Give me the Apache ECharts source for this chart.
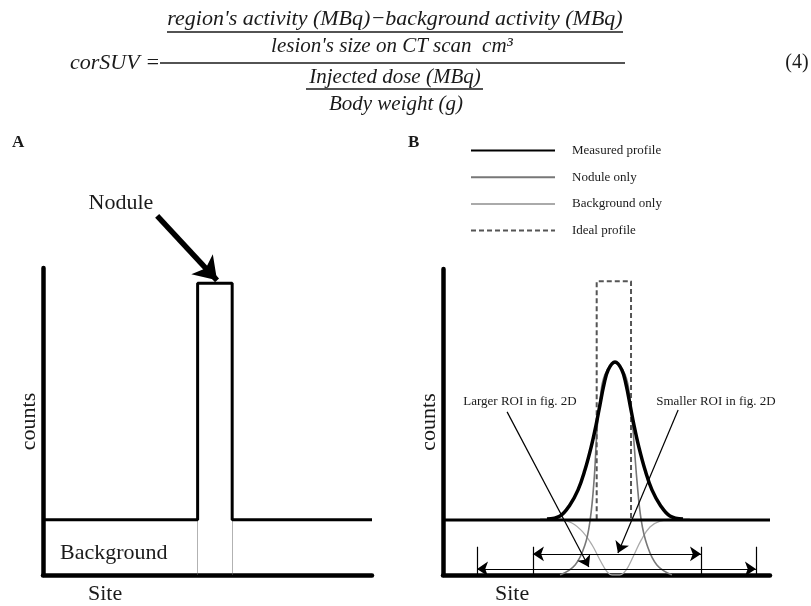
<!DOCTYPE html>
<html>
  <head>
    <meta charset="utf-8" />
    <title>corSUV profiles</title>
    <script src="https://cdn.jsdelivr.net/npm/echarts@6/dist/echarts.min.js"></script>
    <style>
      html, body { margin: 0; padding: 0; background: #fff; }
    </style>
  </head>
  <body>
    <div id="main" style="width: 811px;height:606px;"></div>
    <script type="text/javascript">
        // ---- data (site 0-100, counts 0-100) ----
        // panel A: ideal step profile
        var profileA = [[0, 18], [47, 18], [47, 95], [57.5, 95], [57.5, 18], [100, 18]];
        var nodeEdgesA = [47, 57.5];
        var nodArrowA = [[34.7, 117], [52.9, 96]];

        // panel B
        var baselineB = [[0, 18], [100, 18]];
        var measuredB = [[31.8, 18.3], [35.8, 19.3], [38.8, 22.9], [41.3, 27.8], [43.4, 34.3], [45.3, 41.8],
            [46.8, 49], [48, 55.6], [49.2, 62.1], [50.5, 67], [52.6, 69.6], [54.7, 67], [56, 62.1],
            [57.2, 55.6], [58.4, 49], [59.9, 41.8], [61.8, 34.3], [63.9, 27.8], [66.4, 22.9],
            [69.4, 19.3], [73.4, 18.3]];
        var noduleOnlyB = [[35.8, 0], [40.4, 3.3], [43.4, 9.8], [45, 18], [46.2, 31], [47.1, 47.4],
            [48, 57.2], [49.5, 65.4], [52.6, 69.3], [55.7, 65.4], [57.2, 57.2], [58.1, 47.4],
            [59.3, 31], [60.6, 18], [62.4, 9.8], [65.4, 3.3], [70, 0]];
        var backgroundOnlyB = [[29.7, 18.3], [34.9, 18.3], [39.4, 17], [42.8, 14], [45.6, 9.8], [48, 4.9],
            [50.2, 1], [51.7, 0], [54.1, 0], [56, 1.6], [58.1, 5.9], [60.6, 11.4], [63.3, 15.7],
            [66.4, 17.6], [71, 18.3], [75.5, 18.3]];
        var idealB = [[35, 18], [47, 18], [47, 96], [57.5, 96], [57.5, 18], [71, 18]];

        // ROI extents [from, to, level]
        var largerROI = [10.4, 95.7, 2];
        var smallerROI = [27.5, 78.9, 6.9];
        var roiTickTop = 9.2;
        // pointer arrows from the labels
        var largerPointer = [[19.6, 53.3], [44.6, 2.6]];
        var smallerPointer = [[71.9, 53.9], [53.5, 7.2]];

        var SERIF = '"Liberation Serif", "Times New Roman", serif';
        var INK = '#1a1a1a';

        var myChart = echarts.init(document.getElementById('main'));

        function axisPair(idx) {
            return {
                x: {
                    type: 'value', gridIndex: idx, min: 0, max: 100,
                    axisLine: { show: true, lineStyle: { color: '#000', width: 4.5 } },
                    axisTick: { show: false }, axisLabel: { show: false }, splitLine: { show: false }
                },
                y: {
                    type: 'value', gridIndex: idx, min: 0, max: 100,
                    name: 'counts', nameLocation: 'middle', nameRotate: 90, nameGap: 3,
                    nameTextStyle: { fontFamily: SERIF, fontSize: 22, color: INK },
                    axisLine: { show: true, lineStyle: { color: '#000', width: 4.5 } },
                    axisTick: { show: false }, axisLabel: { show: false }, splitLine: { show: false }
                }
            };
        }
        var axA = axisPair(0), axB = axisPair(1);

        function txt(x, y, s, size, extra) {
            var st = { text: s, x: x, y: y, fontFamily: SERIF, fontSize: size, fill: INK,
                textVerticalAlign: 'middle', textAlign: 'left' };
            for (var k in extra) st[k] = extra[k];
            return { type: 'text', style: st, silent: true };
        }
        function hline(x1, x2, y, w) {
            return { type: 'line', shape: { x1: x1, y1: y, x2: x2, y2: y },
                style: { stroke: INK, lineWidth: w || 1.5 }, silent: true };
        }
        var it = { fontStyle: 'italic', textAlign: 'center' };

        var option = {
            animation: false,
            backgroundColor: '#fff',
            grid: [
                { left: 43, top: 268, width: 329, height: 307 },
                { left: 443, top: 269, width: 327, height: 306 }
            ],
            xAxis: [axA.x, axB.x],
            yAxis: [axA.y, axB.y],
            legend: {
                orient: 'vertical', left: 465, top: 139,
                itemWidth: 84, itemHeight: 14, itemGap: 13.7,
                selectedMode: false,
                itemStyle: { opacity: 0 },
                textStyle: { fontFamily: SERIF, fontSize: 13, color: INK, padding: [0, 0, 0, 12] },
                data: ['Measured profile', 'Nodule only', 'Background only', 'Ideal profile']
            },
            graphic: [
                // equation (4)
                txt(160, 63, 'corSUV =', 22, { fontStyle: 'italic', textAlign: 'right' }),
                hline(160, 625, 63),
                txt(395, 19, "region's activity (MBq)\u2212background activity (MBq)", 22, it),
                hline(167, 623, 32),
                txt(392, 46, "lesion's size on CT scan  cm\u00b3", 21, it),
                txt(395, 77, 'Injected dose (MBq)', 21, it),
                hline(306, 483, 89),
                txt(396, 104, 'Body weight (g)', 21, it),
                txt(797, 63, '(4)', 20, { textAlign: 'center' }),
                // panel letters and labels
                txt(12, 143, 'A', 17, { fontWeight: 'bold' }),
                txt(408, 143, 'B', 17, { fontWeight: 'bold' }),
                txt(121, 203, 'Nodule', 22, { textAlign: 'center' }),
                txt(60, 553, 'Background', 22),
                txt(88, 594, 'Site', 22),
                txt(495, 594, 'Site', 22),
                txt(520, 402, 'Larger ROI in fig. 2D', 13, { textAlign: 'center' }),
                txt(716, 402, 'Smaller ROI in fig. 2D', 13, { textAlign: 'center' })
            ],
            series: [
                // ---- panel A ----
                {
                    type: 'line', xAxisIndex: 0, yAxisIndex: 0, data: profileA,
                    symbol: 'none', lineStyle: { color: '#000', width: 3 }, z: 5
                },
                {
                    type: 'lines', coordinateSystem: 'cartesian2d', xAxisIndex: 0, yAxisIndex: 0,
                    data: nodeEdgesA.map(function (x) { return { coords: [[x, 0], [x, 18]] }; }),
                    lineStyle: { color: '#666', width: 1 }, symbol: 'none'
                },
                {
                    type: 'lines', coordinateSystem: 'cartesian2d', xAxisIndex: 0, yAxisIndex: 0,
                    clip: false, data: [{ coords: nodArrowA }],
                    lineStyle: { color: '#000', width: 5.5, opacity: 1 },
                    symbol: ['none', 'arrow'], symbolSize: [0, 22]
                },
                // ---- panel B ----
                {
                    name: 'Background only', type: 'line', xAxisIndex: 1, yAxisIndex: 1,
                    data: backgroundOnlyB, smooth: 0.4, symbol: 'none',
                    lineStyle: { color: '#aaa', width: 1.3 }, itemStyle: { color: '#aaa' }, z: 2
                },
                {
                    name: 'Nodule only', type: 'line', xAxisIndex: 1, yAxisIndex: 1,
                    data: noduleOnlyB, smooth: 0.4, symbol: 'none',
                    lineStyle: { color: '#777', width: 1.6 }, itemStyle: { color: '#777' }, z: 3
                },
                {
                    name: 'Ideal profile', type: 'line', xAxisIndex: 1, yAxisIndex: 1,
                    data: idealB, symbol: 'none',
                    lineStyle: { color: '#555', width: 2, type: [5, 3] }, itemStyle: { color: '#555' }, z: 4
                },
                {
                    type: 'line', xAxisIndex: 1, yAxisIndex: 1, data: baselineB, symbol: 'none',
                    lineStyle: { color: '#000', width: 3 }, z: 4
                },
                {
                    name: 'Measured profile', type: 'line', xAxisIndex: 1, yAxisIndex: 1,
                    data: measuredB, smooth: 0.4, symbol: 'none',
                    lineStyle: { color: '#000', width: 3.5 }, itemStyle: { color: '#000' }, z: 6
                },
                // ROI ranges with end ticks
                {
                    type: 'lines', coordinateSystem: 'cartesian2d', xAxisIndex: 1, yAxisIndex: 1,
                    data: [
                        { coords: [[largerROI[0], largerROI[2]], [largerROI[1], largerROI[2]]] },
                        { coords: [[smallerROI[0], smallerROI[2]], [smallerROI[1], smallerROI[2]]] }
                    ],
                    lineStyle: { color: '#000', width: 1.2, opacity: 1 },
                    symbol: ['arrow', 'arrow'], symbolSize: 11, z: 7
                },
                {
                    type: 'lines', coordinateSystem: 'cartesian2d', xAxisIndex: 1, yAxisIndex: 1,
                    data: [largerROI[0], largerROI[1], smallerROI[0], smallerROI[1]].map(function (x) {
                        return { coords: [[x, 0], [x, roiTickTop]] };
                    }),
                    lineStyle: { color: '#000', width: 1.2, opacity: 1 }, symbol: 'none', z: 7
                },
                {
                    type: 'lines', coordinateSystem: 'cartesian2d', xAxisIndex: 1, yAxisIndex: 1,
                    data: [{ coords: largerPointer }, { coords: smallerPointer }],
                    lineStyle: { color: '#000', width: 1.2, opacity: 1 },
                    symbol: ['none', 'arrow'], symbolSize: [0, 11], z: 7
                }
            ]
        };

        myChart.setOption(option);
    </script>
  </body>
</html>
